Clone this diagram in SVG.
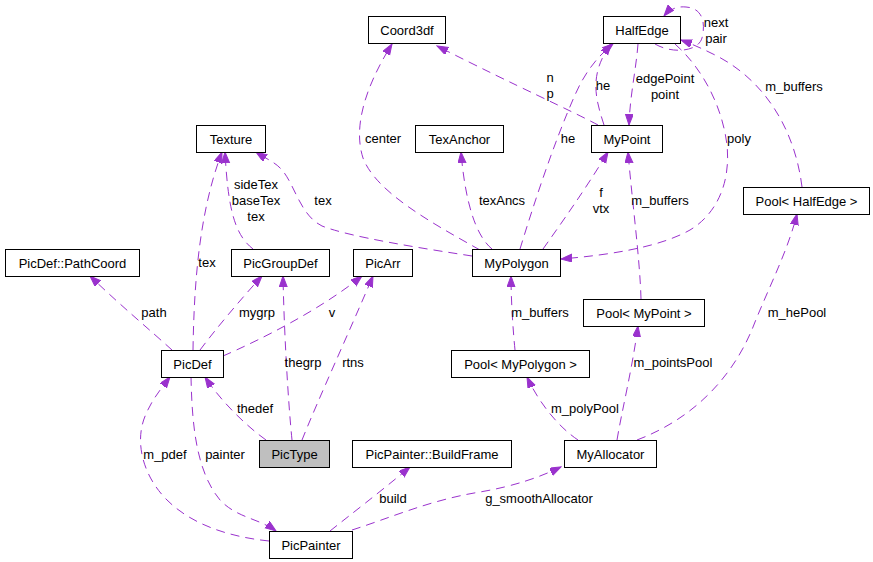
<svg xmlns="http://www.w3.org/2000/svg" width="873" height="562" viewBox="0 0 873 562">
<style>
.n rect{fill:#ffffff;stroke:#000000;stroke-width:1}
.n text{font-family:"Liberation Sans",Arial,sans-serif;font-size:13px;fill:#000000;text-anchor:middle}
.e path{fill:none;stroke:#9a32cd;stroke-width:1;stroke-dasharray:9,6;marker-end:url(#ah)}
.lbl text{font-family:"Liberation Sans",Arial,sans-serif;font-size:13px;fill:#000000;text-anchor:middle}
</style>
<defs>
<marker id="ah" markerUnits="userSpaceOnUse" markerWidth="12" markerHeight="10" refX="11" refY="4" orient="auto">
<path d="M0,0 L11,4 L0,8 z" fill="#9a32cd" stroke="#9a32cd" stroke-width="1"/>
</marker>
</defs>
<rect width="873" height="562" fill="#ffffff"/>
<g id="connectors" class="e">
<path d="M480,250 C430,222 376,192 363,158 C354,130 362,92 392,44"/>
<path d="M598,125 C570,110 520,88 437,46"/>
<path d="M604,125 C596,100 588,75 611,44"/>
<path d="M520,249 C535,200 555,140 575,95 C585,72 598,56 613,44"/>
<path d="M638,44 C636,70 630,95 629,125"/>
<path d="M655,44 C672,54 698,52 702,38 C706,22 702,8 686,7 C676,6 669,10 664,16"/>
<path d="M802,187 C795,130 765,80 715,55 C703,49 692,44 681,40"/>
<path d="M675,44 C702,68 722,105 727,145 C731,185 715,215 690,230 C660,247 610,255 561,259"/>
<path d="M543,249 C560,225 585,190 608,152"/>
<path d="M492,249 C475,235 465,200 461,152"/>
<path d="M472,256 C420,248 350,237 322,226 C300,215 295,185 282,170 C275,162 268,160 256,152"/>
<path d="M515,350 C513,330 511,300 511,276"/>
<path d="M641,299 C640,260 632,200 628,152"/>
<path d="M617,440 C622,410 632,370 638,326"/>
<path d="M578,440 C560,428 540,405 527,377"/>
<path d="M637,440 C695,418 735,375 755,322 C770,285 788,250 797,214"/>
<path d="M352,530 C390,518 430,500 480,492 C515,486 540,477 561,467"/>
<path d="M330,531 C350,515 380,492 410,467"/>
<path d="M269,541 C230,537 192,525 167,500 C142,475 134,440 146,414 C152,400 160,390 170,377"/>
<path d="M191,377 C192,420 195,470 220,500 C237,518 258,518 276,531"/>
<path d="M266,440 C245,425 220,400 205,377"/>
<path d="M292,440 C288,400 284,330 283,276"/>
<path d="M302,440 C318,400 350,330 373,276"/>
<path d="M223,356 C260,340 320,310 362,276"/>
<path d="M200,350 C215,330 240,300 262,276"/>
<path d="M172,350 C150,330 120,305 90,276"/>
<path d="M193,350 C194,290 198,215 222,152"/>
<path d="M253,249 C235,235 228,210 225,152"/>
</g>
<g id="edge-labels" class="lbl">
<text x="383" y="143">center</text>
<text x="550" y="82">n</text>
<text x="550" y="98">p</text>
<text x="603" y="90">he</text>
<text x="568" y="143">he</text>
<text x="665" y="83">edgePoint</text>
<text x="665" y="99">point</text>
<text x="716" y="27">next</text>
<text x="716" y="43">pair</text>
<text x="794" y="91">m_buffers</text>
<text x="739" y="143">poly</text>
<text x="601" y="197">f</text>
<text x="601" y="213">vtx</text>
<text x="660" y="205">m_buffers</text>
<text x="502" y="205">texAncs</text>
<text x="323" y="205">tex</text>
<text x="256" y="189">sideTex</text>
<text x="256" y="205">baseTex</text>
<text x="256" y="221">tex</text>
<text x="207" y="267">tex</text>
<text x="154" y="317">path</text>
<text x="257" y="317">mygrp</text>
<text x="332" y="317">v</text>
<text x="303" y="367">thegrp</text>
<text x="353" y="367">rtns</text>
<text x="255" y="413">thedef</text>
<text x="165" y="459">m_pdef</text>
<text x="225" y="459">painter</text>
<text x="393" y="503">build</text>
<text x="539" y="503">g_smoothAllocator</text>
<text x="540" y="317">m_buffers</text>
<text x="673" y="367">m_pointsPool</text>
<text x="797" y="317">m_hePool</text>
<text x="585" y="413">m_polyPool</text>
</g>
<g id="Coord3df" class="n"><rect x="368.5" y="16.5" width="77" height="27"/><text x="407" y="34.5">Coord3df</text></g>
<g id="HalfEdge" class="n"><rect x="603.5" y="16.5" width="77" height="27"/><text x="642" y="34.5">HalfEdge</text></g>
<g id="Texture" class="n"><rect x="196.5" y="125.5" width="69" height="27"/><text x="231" y="143.5">Texture</text></g>
<g id="TexAnchor" class="n"><rect x="415.5" y="125.5" width="88" height="27"/><text x="459.5" y="143.5">TexAnchor</text></g>
<g id="MyPoint" class="n"><rect x="591.5" y="125.5" width="71" height="27"/><text x="627" y="143.5">MyPoint</text></g>
<g id="PoolHalfEdge" class="n"><rect x="743.5" y="187.5" width="126" height="27"/><text x="806.5" y="205.5">Pool&lt; HalfEdge &gt;</text></g>
<g id="PathCoord" class="n"><rect x="5.5" y="249.5" width="134" height="27"/><text x="72.5" y="267.5">PicDef::PathCoord</text></g>
<g id="PicGroupDef" class="n"><rect x="231.5" y="249.5" width="98" height="27"/><text x="280.5" y="267.5">PicGroupDef</text></g>
<g id="PicArr" class="n"><rect x="353.5" y="249.5" width="59" height="27"/><text x="383" y="267.5">PicArr</text></g>
<g id="MyPolygon" class="n"><rect x="472.5" y="249.5" width="88" height="27"/><text x="516.5" y="267.5">MyPolygon</text></g>
<g id="PoolMyPoint" class="n"><rect x="583.5" y="299.5" width="121" height="27"/><text x="644" y="317.5">Pool&lt; MyPoint &gt;</text></g>
<g id="PicDef" class="n"><rect x="161.5" y="350.5" width="62" height="27"/><text x="192.5" y="368.5">PicDef</text></g>
<g id="PoolMyPolygon" class="n"><rect x="451.5" y="350.5" width="138" height="27"/><text x="520.5" y="368.5">Pool&lt; MyPolygon &gt;</text></g>
<g id="PicType" class="n"><rect x="259.5" y="440.5" width="70" height="27" style="fill:#bfbfbf"/><text x="294.5" y="458.5">PicType</text></g>
<g id="BuildFrame" class="n"><rect x="352.5" y="440.5" width="159" height="27"/><text x="432" y="458.5">PicPainter::BuildFrame</text></g>
<g id="MyAllocator" class="n"><rect x="564.5" y="440.5" width="92" height="27"/><text x="610.5" y="458.5">MyAllocator</text></g>
<g id="PicPainter" class="n"><rect x="269.5" y="531.5" width="83" height="27"/><text x="311" y="549.5">PicPainter</text></g>
</svg>
